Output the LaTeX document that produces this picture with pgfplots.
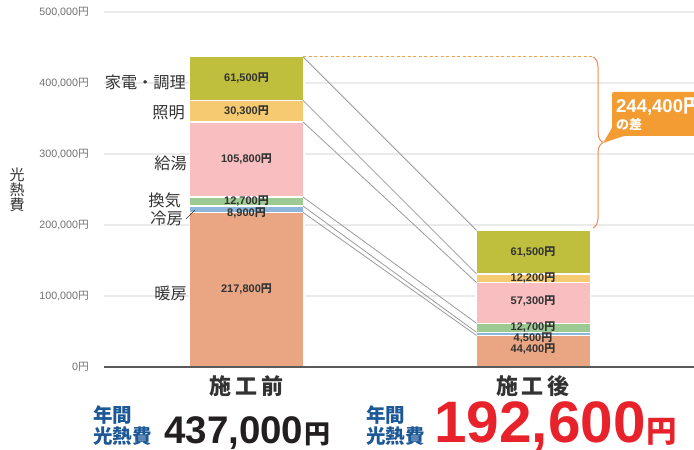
\documentclass[border=0pt]{standalone}
\usepackage{fontspec}
\setmainfont{Liberation Sans}
\newfontfamily\jp{Noto Sans CJK JP}
\usepackage{pgfplots}
\pgfplotsset{compat=1.18}
\usetikzlibrary{decorations.pathreplacing}
\definecolor{cHeat}{HTML}{EAA683}
\definecolor{cCool}{HTML}{8CB6DC}
\definecolor{cVent}{HTML}{9CCA92}
\definecolor{cHot}{HTML}{F8BEC0}
\definecolor{cLight}{HTML}{F5CA70}
\definecolor{cApp}{HTML}{BFBE3D}
\definecolor{cText}{HTML}{333333}
\definecolor{cTick}{HTML}{707070}
\definecolor{cGrid}{HTML}{EBEBEB}
\definecolor{cBase}{HTML}{5A5A5A}
\definecolor{cConn}{HTML}{9B9B9B}
\definecolor{cDash}{HTML}{F4A24A}
\definecolor{cBrace}{HTML}{EE8A55}
\definecolor{cCall}{HTML}{F39C32}
\definecolor{cBlue}{HTML}{1C5796}
\definecolor{cRed}{HTML}{E8222A}
\definecolor{cBlack}{HTML}{231F20}
\newcommand{\en}{{\jp 円}}
\newcommand{\fs}[1]{\fontsize{#1}{#1}\selectfont}
\pgfplotsset{frame/.style={at={(104pt,83pt)}, anchor=south west, scale only axis,
  width=590pt, height=355pt, xmin=104, xmax=694, ymin=0, ymax=500000}}
\begin{document}
\begin{tikzpicture}[x=1pt,y=1pt]
\useasboundingbox (0,0) rectangle (694,450);
\begin{axis}[frame,
  ybar stacked, bar width=114.5pt,
  axis line style={draw=none},
  tick style={draw=none}, major tick length=0pt,
  xtick={246.5,533},
  xticklabels={施\hspace{4pt}工\hspace{4pt}前, 施\hspace{4pt}工\hspace{4pt}後},
  xticklabel style={font=\jp\bfseries\fs{22}, text=cText, inner sep=0pt},
  xticklabel shift=8pt,
  ytick={0,100000,200000,300000,400000,500000},
  yticklabels={{0\en},{100,000\en},{200,000\en},{300,000\en},{400,000\en},{500,000\en}},
  yticklabel style={font=\fs{10.7}, text=cTick, inner sep=0pt},
  yticklabel shift=15pt,
  scaled y ticks=false,
  ymajorgrids, grid style={color=cGrid, line width=1.2pt},
]
\addplot[fill=cHeat, draw=white, line width=1.5pt] coordinates {(246.5,217800) (533,44400)};
\addplot[fill=cCool, draw=white, line width=1.5pt] coordinates {(246.5,8900) (533,4500)};
\addplot[fill=cVent, draw=white, line width=1.5pt] coordinates {(246.5,12700) (533,12700)};
\addplot[fill=cHot, draw=white, line width=1.5pt] coordinates {(246.5,105800) (533,57300)};
\addplot[fill=cLight, draw=white, line width=1.5pt] coordinates {(246.5,30300) (533,12200)};
\addplot[fill=cApp, draw=white, line width=1.5pt] coordinates {(246.5,61500) (533,61500)};
\end{axis}
\begin{axis}[frame, hide axis, clip=false]
\addplot[cBase, line width=1.3pt] coordinates {(104,0) (694,0)};
\addplot[cConn, line width=0.8pt] coordinates {(303,437000) (476.5,192600)};
\addplot[cConn, line width=0.8pt] coordinates {(303,375500) (476.5,131100)};
\addplot[cConn, line width=0.8pt] coordinates {(303,345200) (476.5,118900)};
\addplot[cConn, line width=0.8pt] coordinates {(303,239400) (476.5,61600)};
\addplot[cConn, line width=0.8pt] coordinates {(303,226700) (476.5,48900)};
\addplot[cConn, line width=0.8pt] coordinates {(303,217800) (476.5,44400)};
\addplot[cDash, line width=1pt, dash pattern=on 3pt off 2.5pt] coordinates {(303,437000) (593,437000)};
\end{axis}
% y label
\node[font=\jp\fontsize{15}{15}\selectfont, text=cText, align=center, inner sep=0pt] at (17,260) {光\\熱\\費};
% category labels
\begin{scope}[every node/.style={font=\jp\fs{16.2}, text=cText, inner sep=0pt, anchor=east}]
\node at (186,368) {家電・調理};
\node at (185,337) {照明};
\node at (187,287) {給湯};
\node at (181,250) {換気};
\node at (183,232) {冷房};
\node at (187,157) {暖房};
\end{scope}
\draw[cText, line width=0.7pt] (186,231) -- (195,240);
% value labels
\begin{scope}[every node/.style={font=\bfseries\fs{11}, text=cText, inner sep=0pt}]
\node at (246.5,372) {61,500\en};
\node at (246.5,339) {30,300\en};
\node at (246.5,291) {105,800\en};
\node at (246.5,249) {12,700\en};
\node at (246.5,237) {8,900\en};
\node at (246.5,161) {217,800\en};
\node at (533,198) {61,500\en};
\node at (533,172) {12,200\en};
\node at (533,149) {57,300\en};
\node at (533,123) {12,700\en};
\node at (533,112) {4,500\en};
\node at (533,101) {44,400\en};
\end{scope}
% brace and callout
\draw[cBrace, line width=1pt, decorate, decoration={brace, amplitude=10pt}] (593,393) -- (593,222);
\fill[cCall, rounded corners=1.5pt] (612,358) -- (705,358) -- (705,314) -- (624,314) -- (603,307) -- (612,322) -- cycle;
\node[anchor=base west, inner sep=0pt, text=white, font=\bfseries\fs{18.5}] at (616,337) {244,400\en};
\node[anchor=west, inner sep=0pt, text=white, font=\jp\bfseries\fs{13}] at (616,325) {の差};
% bottom totals
\begin{scope}[every node/.style={font=\jp\bfseries\fs{19.5}, text=cBlue, inner sep=0pt, anchor=west}]
\node at (93,35) {年間};
\node at (93,14) {光熱費};
\node at (366,35) {年間};
\node at (366,14) {光熱費};
\end{scope}
\node[anchor=base west, inner sep=0pt, text=cBlack] at (164,6) {\bfseries\fs{38.5}437,000\hspace{1pt}{\jp\fs{26}円}};
\node[anchor=base west, inner sep=0pt, text=cRed] at (434,7) {\bfseries\fs{58.5}192,600\hspace{1pt}{\jp\fs{30.5}円}};
\end{tikzpicture}
\end{document}
